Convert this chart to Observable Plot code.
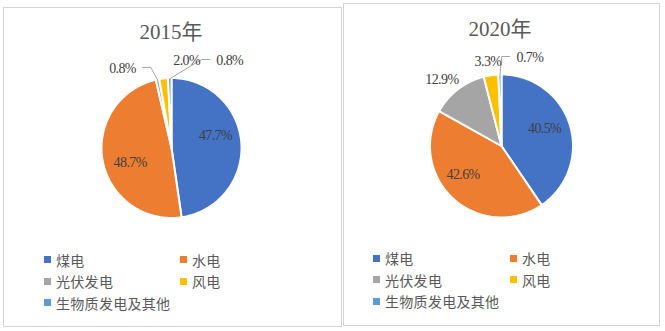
<!DOCTYPE html>
<html>
<head>
<meta charset="utf-8">
<script src="https://cdn.jsdelivr.net/npm/d3@7"></script>
<script src="https://cdn.jsdelivr.net/npm/@observablehq/plot@0.6"></script>
<style>
  html, body { margin: 0; padding: 0; background: #fff; }
  body { position: relative; width: 665px; height: 331px; overflow: hidden; }
  .panel { position: absolute; box-sizing: border-box; border: 1px solid #d4d4d4; background: #fff; }
  .chart { position: absolute; left: 0; top: 0; }
  .title { position: absolute; left: 0; text-align: center; font-family: "Liberation Serif", "Noto Sans CJK SC", serif;
           font-size: 21px; line-height: 21px; color: #595959; white-space: nowrap; }
  .legend { position: absolute; display: grid; font-family: "Noto Sans CJK SC", sans-serif; font-size: 14px;
            color: #595959; letter-spacing: 0.3px; }
  .item { display: flex; align-items: center; height: 21.5px; white-space: nowrap; }
  .sw { width: 7px; height: 7px; margin-right: 5px; flex: none; }
</style>
</head>
<body>
<div class="panel" id="p2015" style="left:3px;top:7px;width:339px;height:320px;">
  <div class="chart"></div>
  <div class="title" style="top:14.4px;width:334px;"></div>
  <div class="legend" style="left:40px;top:241px;grid-template-columns:136px auto;"></div>
</div>
<div class="panel" id="p2020" style="left:343px;top:3px;width:317px;height:323px;">
  <div class="chart"></div>
  <div class="title" style="top:15.4px;width:312px;"></div>
  <div class="legend" style="left:29px;top:243.5px;grid-template-columns:137px auto;"></div>
</div>
<script>
// ---- data ----
const categories = ["煤电", "水电", "光伏发电", "风电", "生物质发电及其他"];
const share2015 = [47.7, 48.7, 0.8, 2.0, 0.8];
const share2020 = [40.5, 42.6, 12.9, 3.3, 0.7];
const titles = ["2015年", "2020年"];
const colors = ["#4472C4", "#ED7D31", "#A5A5A5", "#FFC000", "#5B9BD5"];

// ---- layout (pixels / label placement, not data) ----
const layouts = [
  { id: "p2015", W: 337, H: 318, cx: 167, cy: 139.5, R: 70,
    label: [
      { pos: "in",  r: 0.63, nx: 0,   ny: -9 },
      { pos: "in",  r: 0.63, nx: 2,   ny: 6.5 },
      { pos: "out", nx: -35, ny: -11, leader: true },
      { pos: "out", nx: 23,  ny: -18 },
      { pos: "out", nx: 60,  ny: -17.5, leader: true }
    ] },
  { id: "p2020", W: 315, H: 321, cx: 157, cy: 141.5, R: 71.5,
    label: [
      { pos: "in",  r: 0.63, nx: 0,   ny: -4 },
      { pos: "in",  r: 0.63, nx: -8,  ny: -5 },
      { pos: "out", nx: -16, ny: -10 },
      { pos: "out", nx: -3,  ny: -14 },
      { pos: "out", nx: 30,  ny: -17, leader: true }
    ] }
];

const fmt = v => d3.format(".1f")(v) + "%";

function drawPie(values, title, L) {
  const panel = document.getElementById(L.id);
  const total = d3.sum(values);
  const slices = [];
  const labels = [];
  const leaders = [];
  let acc = 0;
  categories.forEach((c, i) => {
    const a0 = acc / total * 2 * Math.PI;
    acc += values[i];
    const a1 = acc / total * 2 * Math.PI;
    const n = Math.max(2, Math.ceil((a1 - a0) / (Math.PI / 180)));
    slices.push({ c, x: 0, y: 0 });
    for (let k = 0; k <= n; k++) {
      const a = a0 + (a1 - a0) * k / n;
      slices.push({ c, x: Math.sin(a), y: Math.cos(a) });
    }
    slices.push({ c, x: 0, y: 0 });

    const mid = (a0 + a1) / 2;
    const spec = L.label[i];
    const r = spec.pos === "in" ? spec.r : 1;
    const ex = r * Math.sin(mid), ey = r * Math.cos(mid);
    const lx = ex + spec.nx / L.R, ly = ey - spec.ny / L.R;
    const text = fmt(values[i]);
    labels.push({ x: lx, y: ly, text });
    if (spec.leader) {
      const hw = text.length * 3.8;
      const dir = spec.nx < 0 ? 1 : -1;
      const endX = lx + dir * (hw + 5) / L.R;
      const elbowX = endX + dir * 8 / L.R;
      const yy = ly + 1 / L.R;
      leaders.push({ g: i, x: 0.99 * Math.sin(mid), y: 0.99 * Math.cos(mid) });
      leaders.push({ g: i, x: elbowX, y: yy });
      leaders.push({ g: i, x: endX, y: yy });
    }
  });

  const chart = Plot.plot({
    width: L.W,
    height: L.H,
    margin: 0,
    style: { background: "transparent", letterSpacing: "-0.6px", overflow: "visible" },
    x: { domain: [-1, 1], range: [L.cx - L.R, L.cx + L.R], axis: null },
    y: { domain: [-1, 1], range: [L.cy + L.R, L.cy - L.R], axis: null },
    color: { domain: categories, range: colors },
    marks: [
      Plot.line(slices, { x: "x", y: "y", z: "c", fill: "c", stroke: "white", strokeWidth: 2, strokeLinejoin: "round" }),
      Plot.line(leaders, { x: "x", y: "y", z: "g", stroke: "#a6a6a6", strokeWidth: 1 }),
      Plot.text(labels, { x: "x", y: "y", text: "text", fontFamily: "Liberation Serif", fontSize: 14, fill: "#404040" })
    ]
  });
  panel.querySelector(".chart").appendChild(chart);
  panel.querySelector(".title").textContent = title;

  const legend = panel.querySelector(".legend");
  categories.forEach((c, i) => {
    const item = document.createElement("div");
    item.className = "item";
    const sw = document.createElement("span");
    sw.className = "sw";
    sw.style.background = colors[i];
    const t = document.createElement("span");
    t.textContent = c;
    item.appendChild(sw);
    item.appendChild(t);
    legend.appendChild(item);
  });
}

drawPie(share2015, titles[0], layouts[0]);
drawPie(share2020, titles[1], layouts[1]);
</script>
</body>
</html>
